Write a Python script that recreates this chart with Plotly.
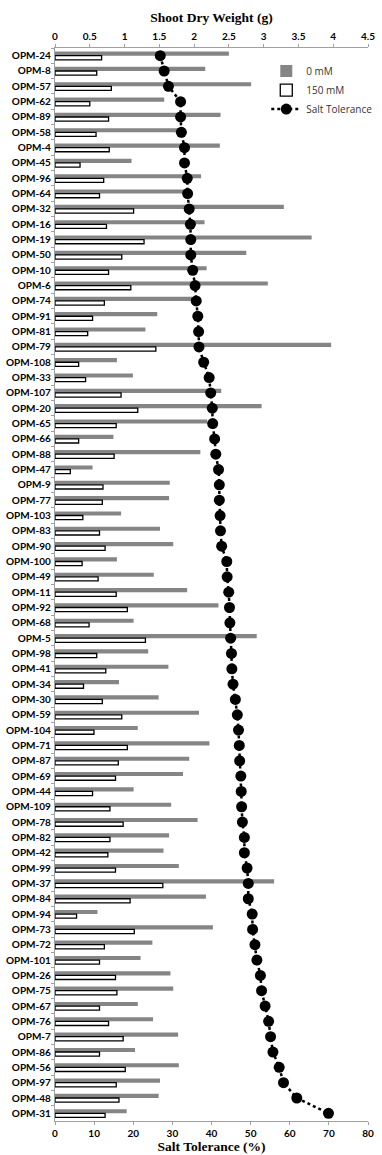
import plotly.graph_objects as go

genotypes = ["OPM-24", "OPM-8", "OPM-57", "OPM-62", "OPM-89", "OPM-58", "OPM-4", "OPM-45", "OPM-96", "OPM-64",
             "OPM-32", "OPM-16", "OPM-19", "OPM-50", "OPM-10", "OPM-6", "OPM-74", "OPM-91", "OPM-81", "OPM-79",
             "OPM-108", "OPM-33", "OPM-107", "OPM-20", "OPM-65", "OPM-66", "OPM-88", "OPM-47", "OPM-9", "OPM-77",
             "OPM-103", "OPM-83", "OPM-90", "OPM-100", "OPM-49", "OPM-11", "OPM-92", "OPM-68", "OPM-5", "OPM-98",
             "OPM-41", "OPM-34", "OPM-30", "OPM-59", "OPM-104", "OPM-71", "OPM-87", "OPM-69", "OPM-44", "OPM-109",
             "OPM-78", "OPM-82", "OPM-42", "OPM-99", "OPM-37", "OPM-84", "OPM-94", "OPM-73", "OPM-72", "OPM-101",
             "OPM-26", "OPM-75", "OPM-67", "OPM-76", "OPM-7", "OPM-86", "OPM-56", "OPM-97", "OPM-48", "OPM-31"]

sdw_0mM = [2.50, 2.16, 2.82, 1.57, 2.38, 1.82, 2.37, 1.10, 2.10, 1.89,
           3.29, 2.15, 3.69, 2.75, 2.18, 3.06, 1.97, 1.47, 1.30, 3.97,
           0.89, 1.12, 2.39, 2.97, 2.19, 0.84, 2.09, 0.54, 1.65, 1.64,
           0.95, 1.51, 1.70, 0.89, 1.42, 1.90, 2.35, 1.13, 2.90, 1.34,
           1.63, 0.92, 1.49, 2.07, 1.19, 2.22, 1.93, 1.84, 1.13, 1.67,
           2.05, 1.64, 1.56, 1.78, 3.15, 2.17, 0.61, 2.27, 1.40, 1.23,
           1.66, 1.70, 1.19, 1.41, 1.77, 1.15, 1.78, 1.51, 1.49, 1.03]

sdw_150mM = [0.67, 0.60, 0.81, 0.50, 0.77, 0.59, 0.78, 0.36, 0.70, 0.64,
             1.13, 0.74, 1.28, 0.96, 0.77, 1.09, 0.71, 0.54, 0.47, 1.45,
             0.34, 0.44, 0.95, 1.19, 0.88, 0.34, 0.85, 0.22, 0.69, 0.68,
             0.40, 0.64, 0.72, 0.39, 0.62, 0.88, 1.04, 0.49, 1.30, 0.60,
             0.73, 0.41, 0.68, 0.96, 0.56, 1.04, 0.91, 0.87, 0.54, 0.79,
             0.98, 0.79, 0.76, 0.87, 1.55, 1.08, 0.31, 1.14, 0.71, 0.64,
             0.87, 0.89, 0.64, 0.77, 0.98, 0.64, 1.01, 0.88, 0.92, 0.72]

salt_tolerance = [26.9, 27.9, 29.0, 32.1, 32.1, 32.3, 33.1, 33.1, 33.8, 33.9,
                  34.3, 34.6, 34.7, 34.7, 35.2, 35.8, 36.1, 36.5, 36.7, 36.8,
                  38.0, 39.4, 39.8, 40.2, 40.3, 40.8, 41.1, 41.8, 42.0, 42.0,
                  42.2, 42.3, 42.6, 43.9, 44.0, 44.4, 44.6, 44.7, 44.9, 45.1,
                  45.2, 45.5, 46.1, 46.6, 46.9, 47.1, 47.2, 47.5, 47.6, 47.7,
                  47.9, 48.4, 48.4, 49.1, 49.4, 49.4, 50.4, 50.5, 51.1, 51.6,
                  52.5, 52.8, 53.7, 54.6, 55.1, 55.7, 57.3, 58.4, 61.8, 69.9]

sdw_ticks = [0, 0.5, 1, 1.5, 2, 2.5, 3, 3.5, 4, 4.5]
st_ticks = [0, 10, 20, 30, 40, 50, 60, 70, 80]

tick_font = dict(family="Lato, 'Open Sans', sans-serif", size=10, color="black", weight="bold")
title_font = dict(family="'Liberation Serif', 'Times New Roman', serif", size=13.5, color="black", weight="bold")

fig = go.Figure()
fig.add_trace(go.Bar(
    y=genotypes, x=sdw_0mM, orientation="h", name="0 mM",
    marker=dict(color="#858585", line=dict(width=0)),
    xaxis="x", yaxis="y",
))
fig.add_trace(go.Bar(
    y=genotypes, x=sdw_150mM, orientation="h", name="150 mM",
    marker=dict(color="white", line=dict(color="black", width=1.3)),
    xaxis="x", yaxis="y",
))
fig.add_trace(go.Scatter(
    y=genotypes, x=salt_tolerance, mode="lines+markers", name="Salt Tolerance",
    line=dict(color="black", width=2.5, dash="dot"),
    marker=dict(color="black", size=11),
    xaxis="x2", yaxis="y",
))

fig.update_layout(
    width=382, height=1155,
    margin=dict(l=55, r=14, t=48, b=34, autoexpand=False),
    paper_bgcolor="white", plot_bgcolor="white",
    barmode="group", bargap=0.46, bargroupgap=0.0,
    showlegend=True,
    legend=dict(x=0.675, y=0.992, xanchor="left", yanchor="top",
                bgcolor="rgba(255,255,255,0)", tracegroupgap=4,
                font=dict(family="'Open Sans', sans-serif", size=10, color="#333333")),
    xaxis=dict(
        side="top", range=[0, 4.5], tickvals=sdw_ticks,
        ticktext=[str(v) for v in sdw_ticks], automargin=False,
        showgrid=False, zeroline=False,
        showline=True, linecolor="#a0a0a0", linewidth=1.2,
        ticks="outside", ticklen=3, tickcolor="#a0a0a0",
        tickfont=tick_font,
        title=dict(text="Shoot Dry Weight (g)", font=title_font, standoff=4),
    ),
    xaxis2=dict(
        overlaying="x", side="bottom", range=[0, 80], tickvals=st_ticks,
        automargin=False,
        showgrid=False, zeroline=False,
        showline=True, linecolor="#a0a0a0", linewidth=1.2,
        ticks="outside", ticklen=3, tickcolor="#a0a0a0",
        tickfont=tick_font,
        title=dict(text="Salt Tolerance (%)", font=title_font, standoff=2),
    ),
    yaxis=dict(
        type="category", range=[len(genotypes) - 0.5, -0.5], automargin=False,
        showgrid=False, zeroline=False,
        showline=True, linecolor="#a0a0a0", linewidth=1.2,
        ticks="outside", ticklen=3, tickcolor="#a0a0a0", tickson="boundaries",
        tickfont=tick_font, ticklabelstandoff=1,
    ),
)

fig.write_html("out.html", config={"displayModeBar": False},
               post_script="document.body.style.margin='0px';document.body.style.padding='0px';")
